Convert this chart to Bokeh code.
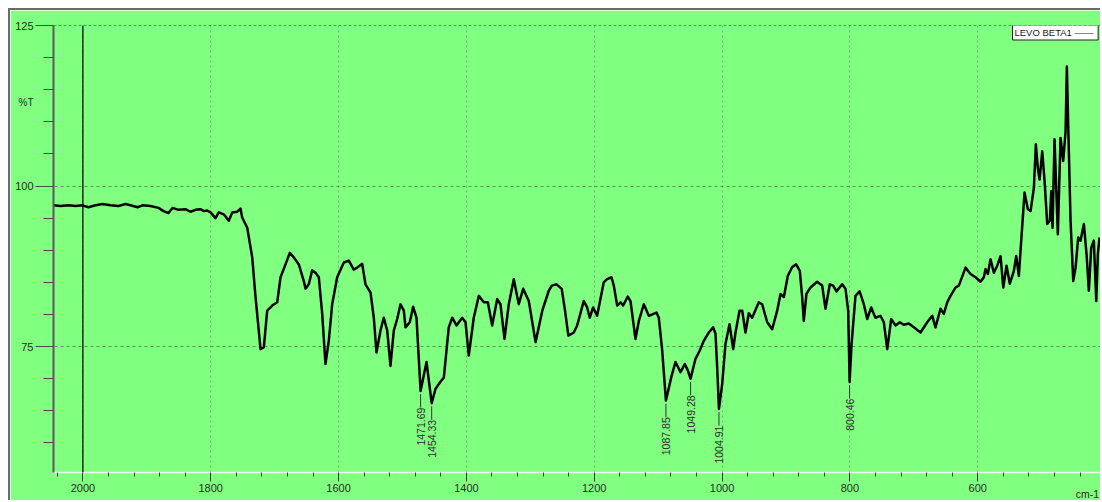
import numpy as np
from bokeh.plotting import figure
from bokeh.models import Range1d, FixedTicker, Span, Label, LinearAxis
from bokeh.embed import file_html
from bokeh.resources import INLINE
from bokeh.core.properties import value

# IR spectrum of LEVO BETA1 (wavenumber in cm-1, transmittance in %T)
wavenumber = [
    2046.0, 2035.0, 2022.5, 2011.6, 2000.6, 1991.2, 1980.3, 1969.3, 1956.8, 1944.3,
    1933.4, 1925.5, 1914.6, 1906.8, 1894.2, 1881.7, 1873.9, 1866.1, 1859.8, 1850.4,
    1839.5, 1831.7, 1823.8, 1816.0, 1810.9, 1805.5, 1800.4, 1792.5, 1787.4, 1779.6,
    1771.7, 1766.4, 1758.6, 1753.4, 1750.8, 1742.9, 1735.1, 1729.9, 1722.1, 1716.9,
    1711.7, 1703.8, 1696.0, 1690.8, 1683.0, 1676.3, 1670.0, 1662.2, 1654.4, 1651.7,
    1646.6, 1641.3, 1636.1, 1630.9, 1625.6, 1620.5, 1615.3, 1610.0, 1602.2, 1591.8,
    1584.0, 1576.2, 1570.9, 1563.1, 1557.9, 1550.0, 1544.9, 1540.7, 1534.4, 1529.3,
    1523.9, 1518.8, 1513.6, 1508.3, 1503.1, 1497.9, 1495.3, 1488.6, 1483.3, 1478.1,
    1471.69, 1462.4, 1454.33, 1448.4, 1443.1, 1435.3, 1427.6, 1422.2, 1415.5, 1406.6,
    1401.4, 1396.3, 1388.5, 1380.6, 1372.8, 1366.5, 1359.7, 1351.8, 1346.7, 1340.4,
    1333.7, 1325.9, 1318.1, 1311.2, 1302.4, 1291.8, 1281.3, 1271.1, 1266.4, 1258.9,
    1250.9, 1245.7, 1240.5, 1232.0, 1226.7, 1216.4, 1211.1, 1207.0, 1201.8, 1195.5,
    1185.2, 1179.9, 1173.0, 1169.4, 1164.1, 1158.9, 1154.8, 1147.5, 1143.3, 1135.5,
    1130.2, 1122.5, 1114.6, 1102.6, 1099.0, 1093.7, 1087.85, 1079.6, 1072.9, 1065.0,
    1058.4, 1053.6, 1049.28, 1041.6, 1034.9, 1028.6, 1020.8, 1013.9, 1010.3, 1007.7,
    1004.91, 999.8, 994.7, 988.4, 982.6, 979.0, 972.7, 968.5, 963.4, 958.2,
    952.9, 942.6, 937.3, 929.4, 921.6, 913.8, 908.6, 903.4, 897.2, 890.3,
    884.1, 878.4, 874.7, 872.2, 868.0, 861.7, 851.3, 843.4, 838.2, 831.5,
    826.2, 821.0, 812.1, 806.9, 802.7, 800.46, 797.4, 791.3, 784.8, 778.3,
    772.9, 766.7, 760.1, 752.2, 747.0, 741.6, 735.4, 728.7, 722.0, 715.7,
    707.9, 700.0, 689.5, 679.1, 671.2, 666.1, 658.3, 653.1, 647.8, 642.6,
    634.8, 629.6, 619.1, 611.3, 603.5, 595.6, 590.5, 587.8, 584.2, 580.0,
    574.8, 569.5, 564.3, 560.1, 555.0, 549.8, 543.5, 539.8, 535.7, 532.0,
    526.8, 521.6, 517.4, 512.2, 509.1, 506.0, 503.3, 499.1, 495.5, 491.3,
    487.2, 485.0, 483.0, 479.9, 476.7, 474.7, 470.5, 466.3, 462.6, 460.6,
    458.4, 454.8, 450.6, 447.0, 442.8, 439.2, 434.0, 429.8, 426.2, 422.5,
    418.4, 414.6, 412.1, 409.5,
]
transmittance = [
    97.0, 96.9, 97.0, 96.9, 97.0, 96.7, 97.0, 97.2, 97.0, 96.9,
    97.2, 97.0, 96.7, 97.0, 96.9, 96.6, 96.1, 95.8, 96.6, 96.3,
    96.4, 96.0, 96.3, 96.4, 96.1, 96.2, 95.9, 95.0, 95.9, 95.6,
    94.6, 95.9, 96.0, 96.5, 95.1, 93.5, 88.9, 82.7, 74.6, 74.9,
    80.6, 81.4, 81.9, 85.8, 87.8, 89.6, 88.9, 87.8, 85.2, 84.0,
    84.7, 86.9, 86.5, 85.8, 80.1, 72.3, 75.9, 81.6, 85.8, 88.1,
    88.4, 87.0, 87.3, 87.9, 84.7, 83.4, 79.5, 74.1, 77.5, 79.5,
    77.5, 72.0, 77.5, 79.3, 81.6, 80.6, 78.0, 78.8, 81.2, 79.5,
    68.1, 72.6, 66.2, 68.4, 69.2, 70.2, 78.0, 79.5, 78.3, 79.5,
    78.8, 73.6, 79.5, 82.9, 81.9, 81.9, 78.3, 82.4, 81.6, 76.2,
    81.6, 85.5, 81.6, 84.0, 82.1, 75.7, 80.6, 83.7, 84.5, 84.7,
    84.0, 80.6, 76.7, 77.2, 78.3, 82.1, 81.1, 79.5, 81.1, 79.8,
    85.0, 85.5, 85.8, 84.5, 81.4, 81.9, 81.4, 82.8, 82.1, 76.2,
    79.0, 81.6, 79.8, 80.3, 79.5, 74.4, 66.6, 70.2, 72.6, 71.0,
    72.3, 71.3, 70.0, 73.1, 74.4, 75.9, 77.2, 78.0, 77.0, 71.8,
    65.3, 69.2, 75.4, 78.5, 74.6, 77.2, 80.6, 80.6, 77.2, 80.2,
    79.5, 81.9, 81.6, 78.8, 77.7, 80.6, 83.2, 82.7, 86.0, 87.4,
    87.8, 86.8, 82.7, 79.0, 83.2, 84.2, 85.1, 84.5, 80.9, 84.7,
    84.5, 83.6, 84.7, 84.0, 80.6, 69.5, 75.4, 82.9, 83.6, 81.6,
    79.3, 81.1, 79.5, 79.8, 78.8, 74.6, 79.3, 78.3, 78.8, 78.4,
    78.6, 78.0, 77.2, 78.8, 79.8, 78.0, 80.9, 80.1, 81.9, 82.9,
    84.2, 84.5, 87.3, 86.3, 85.8, 85.1, 85.8, 87.1, 86.3, 88.6,
    86.5, 87.6, 89.1, 84.2, 87.6, 84.8, 86.8, 89.1, 86.0, 91.5,
    99.0, 96.4, 96.1, 99.7, 106.5, 102.8, 101.0, 105.4, 100.8, 94.1,
    94.6, 99.2, 93.5, 107.3, 98.2, 92.5, 107.5, 103.9, 108.5, 118.6,
    109.1, 94.6, 85.2, 87.3, 92.0, 91.5, 94.1, 89.4, 83.7, 90.4,
    91.5, 82.1, 89.4, 92.0,
]

# Labelled absorption peaks
peak_wavenumber = [1471.69, 1454.33, 1087.85, 1049.28, 1004.91, 800.46]
peak_transmittance = [68.1, 66.2, 66.6, 70.0, 65.3, 69.5]
peak_labels = ["1471.69", "1454.33", "1087.85", "1049.28", "1004.91", "800.46"]

x_major = [2000, 1800, 1600, 1400, 1200, 1000, 800, 600]
x_minor = [v for v in range(2040, 400, -40) if v % 200 != 0]
y_major = [75, 100, 125]
y_minor = [v for v in range(60, 125, 5) if v % 25 != 0]

# positions of the unit captions along their axes
y_unit_at, y_unit_text = 113, "%T"
x_unit_at, x_unit_text = 424, "cm-1"

GREEN = "#80ff80"
FONT = "Liberation Sans"
INK = "#2a2a2a"

p = figure(width=1092, height=492, output_backend="svg", toolbar_location=None,
           x_range=Range1d(2046.0, 406.4), y_range=Range1d(55.4, 125.0),
           min_border_left=43, min_border_right=1, min_border_top=15, min_border_bottom=29,
           background_fill_color=GREEN, border_fill_color=GREEN, outline_line_color=None)
p.margin = (8, 0, 0, 8)
p.styles = {"border-top": "2px solid #6a6a6a", "border-left": "2px solid #6a6a6a"}

# axes
p.xaxis.ticker = FixedTicker(ticks=x_major, minor_ticks=x_minor)
p.yaxis.ticker = FixedTicker(ticks=y_major, minor_ticks=y_minor)

for ax in (p.xaxis[0], p.yaxis[0]):
    ax.major_label_text_font = FONT
    ax.major_label_text_font_size = "11px"
    ax.major_label_text_color = INK
    ax.major_tick_in = 0
    ax.minor_tick_in = 0
    ax.major_label_standoff = 2

p.xaxis.axis_line_color = "#eefaee"
p.xaxis.axis_line_width = 1.5
p.xaxis.major_tick_out = 9
p.xaxis.minor_tick_out = 4
p.xaxis.major_tick_line_color = "#3a3a3a"
p.xaxis.minor_tick_line_color = "#3a3a3a"

p.yaxis.axis_line_color = "#5a5a5a"
p.yaxis.axis_line_width = 2
p.yaxis.major_tick_out = 18
p.yaxis.minor_tick_out = 10
p.yaxis.major_tick_line_color = "#4a4a4a"
p.yaxis.minor_tick_line_color = "#4a4a4a"


def caption_axis(at, text, standoff, size):
    """Bare axis carrying a single unit caption as its only label."""
    return LinearAxis(ticker=FixedTicker(ticks=[at]), major_label_overrides={at: text},
                      axis_line_color=None, major_tick_line_color=None,
                      minor_tick_line_color=None, major_tick_in=0, major_tick_out=0,
                      minor_tick_in=0, minor_tick_out=0, major_label_standoff=standoff,
                      major_label_text_font=FONT, major_label_text_font_size=size,
                      major_label_text_color=INK)


p.add_layout(caption_axis(y_unit_at, y_unit_text, -21, "10px"), "left")
p.add_layout(caption_axis(x_unit_at, x_unit_text, -7, "10.5px"), "below")

# grid
p.ygrid.grid_line_color = "#3d6b3d"
p.ygrid.grid_line_alpha = 0.7
p.ygrid.grid_line_dash = "3 3"
p.xgrid.grid_line_color = "#5c8a5c"
p.xgrid.grid_line_alpha = 0.6
p.xgrid.grid_line_dash = "2 3"

p.add_layout(Span(location=125, dimension="width", line_color="#222222",
                  line_width=1.2, line_dash="3 2"))
p.add_layout(Span(location=2000, dimension="height", line_color="black", line_width=1.2))

# spectrum
p.line(wavenumber, transmittance, line_color="black", line_width=2.5, line_join="round")

# peak markers and labels
pk_x = np.array(peak_wavenumber)
pk_y = np.array(peak_transmittance)
p.segment(x0=pk_x, y0=pk_y - 0.5, x1=pk_x, y1=pk_y - 2.6, line_color="#333333", line_width=1)
p.text(x=pk_x, y=pk_y - 2.6, text=peak_labels, angle=np.pi / 2,
       text_align="right", text_baseline="middle",
       text_font=value(FONT), text_font_size="10.5px", text_color=INK)

# series legend (screen pixels relative to the plot frame)
p.add_layout(Label(x=959, y=440, x_units="screen", y_units="screen",
                   text="LEVO BETA1  \u2014\u2014", text_font=FONT,
                   text_font_size="9.5px", text_color="#1a1a1a", text_baseline="middle",
                   background_fill_color="white", border_line_color="#222222",
                   padding=2))

open("out.html", "w").write(file_html(p, INLINE))
